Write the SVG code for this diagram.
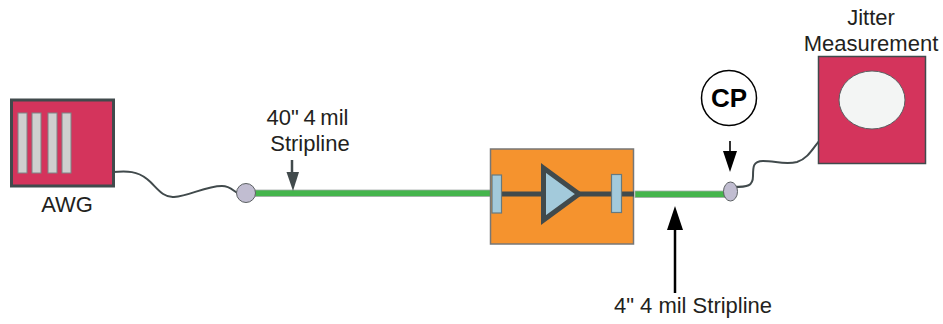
<svg xmlns="http://www.w3.org/2000/svg" width="943" height="324" viewBox="0 0 943 324">
<style>
text{font-family:"Liberation Sans",Arial,sans-serif;font-size:22px;fill:#231f20}
.red{fill:#d4345c;stroke:#414a4c}
.slot{fill:#cfcfcf;stroke:#7d8385;stroke-width:1}
.tl{fill:#45b54c;stroke:#a4aaa8;stroke-width:.8}
.cable{fill:none;stroke:#414a4c;stroke-width:2}
.port{fill:#c1bdd1;stroke:#5b6062;stroke-width:1}
.pad{fill:#a3cadb;stroke:#66797f;stroke-width:1.2}
</style>
<g id="connectors">
<path class="cable" d="M113 172C128 171 137 171 147 179C156 186 162 198 174 197C190 196 205 186 222 186C232 186 234 193 242 195"/>
<path class="cable" d="M733 187C748 187 753 186 753 176C753 167 753 161 763 161C775 161 785 165 797 162C807 159 812 150 819 141"/>
<rect class="tl" x="255" y="190" width="238" height="6.500"/>
<rect class="tl" x="635" y="191" width="92" height="6.500"/>
<path d="M292 160V182" fill="none" stroke="#414a4c" stroke-width="2.500"/>
<path d="M286.500 172H299L293 191Z" fill="#414a4c"/>
<path d="M730 141V156" fill="none" stroke="#000" stroke-width="1.600"/>
<path d="M723 151H737L730 172Z" fill="#000"/>
<path d="M675 226V293" fill="none" stroke="#000" stroke-width="2.500"/>
<path d="M667 230H683L675 206Z" fill="#000"/>
</g>
<g id="awg">
<rect class="red" x="11.500" y="100" width="102" height="86" stroke-width="3"/>
<rect class="slot" x="18" y="113" width="9" height="60"/>
<rect class="slot" x="32" y="113" width="9" height="60"/>
<rect class="slot" x="48" y="113" width="9" height="60"/>
<rect class="slot" x="62" y="113" width="9" height="60"/>
<text x="67" y="212" text-anchor="middle">AWG</text>
</g>
<g id="port-left"><circle class="port" cx="246" cy="193" r="9.500"/></g>
<g id="label-40"><text x="307.500" y="125" text-anchor="middle" word-spacing="-1.500">40" 4 mil</text><text x="310" y="151" text-anchor="middle">Stripline</text></g>
<g id="amplifier">
<rect x="490.500" y="149" width="143" height="95" fill="#f5932e" stroke="#777" stroke-width="1.500"/>
<path d="M500 194H634" stroke="#414a4c" stroke-width="5" fill="none"/>
<rect class="pad" x="492" y="175" width="9.500" height="38"/>
<rect class="pad" x="611.500" y="174.500" width="10" height="38"/>
<path d="M543.500 168L579 194L543.500 220Z" fill="#a3cadb" stroke="#414a4c" stroke-width="5"/>
</g>
<g id="port-right"><ellipse class="port" cx="730.500" cy="191.500" rx="7" ry="9.500"/></g>
<g id="cp"><circle cx="729" cy="98" r="27.500" fill="#fff" stroke="#000" stroke-width="1.500"/><text x="729" y="107" text-anchor="middle" style="font-size:26px;font-weight:bold;fill:#000">CP</text></g>
<g id="jitter">
<rect class="red" x="818.500" y="56.500" width="107" height="107" stroke-width="1.500"/>
<ellipse cx="872" cy="100" rx="33" ry="29" fill="#f3f5f4" stroke="#5b6062" stroke-width="1"/>
<text x="871" y="25" text-anchor="middle">Jitter</text>
<text x="871" y="51" text-anchor="middle">Measurement</text>
</g>
<g id="label-4"><text x="693" y="313" text-anchor="middle">4" 4 mil Stripline</text></g>
</svg>
